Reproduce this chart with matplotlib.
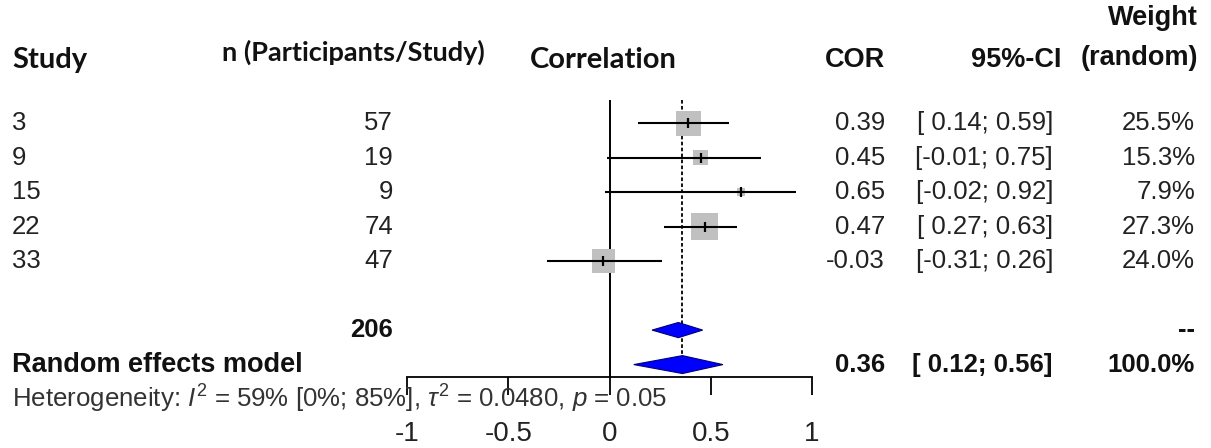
import matplotlib
matplotlib.use("Agg")
import matplotlib.pyplot as plt
import matplotlib.transforms as mtransforms
from matplotlib.patches import Polygon
import numpy as np

plt.rcParams['font.family'] = ['Liberation Sans', 'DejaVu Sans']
plt.rcParams['mathtext.fontset'] = 'custom'
plt.rcParams['mathtext.rm'] = 'Liberation Sans'
plt.rcParams['mathtext.it'] = 'Liberation Sans:italic'

# data
studies = ["3", "9", "15", "22", "33"]
n_part = [57, 19, 9, 74, 47]
cor = [0.39, 0.45, 0.65, 0.47, -0.03]
ci_lo = [0.14, -0.01, -0.02, 0.27, -0.31]
ci_hi = [0.59, 0.75, 0.92, 0.63, 0.26]
weight = [25.5, 15.3, 7.9, 27.3, 24.0]

n_total = 206
sub_lo, sub_est, sub_hi = 0.21, 0.34, 0.46
re_est, re_lo, re_hi = 0.36, 0.12, 0.56
re_label = "Random effects model"
het_text = r"Heterogeneity: $I^2$ = 59% [0%; 85%], $\tau^2$ = 0.0480, $p$ = 0.05"
xticks = [-1, -0.5, 0, 0.5, 1]
xtick_labels = ["-1", "-0.5", "0", "0.5", "1"]

W, H = 1211, 448
fig = plt.figure(figsize=(W/100, H/100), dpi=100)

# overlay in pixel units, used for text x positions
tx = fig.add_axes([0, 0, 1, 1])
tx.set_xlim(0, W)
tx.set_ylim(H, 0)
tx.axis('off')

# forest panel
fax = fig.add_axes([407/W, (H-377)/H, (812-407)/W, (377-100)/H])
fax.set_xlim(-1, 1)
fax.set_ylim(8.36, 0.33)
fax.patch.set_alpha(0)
for s in ['top', 'left', 'right']:
	fax.spines[s].set_visible(False)
fax.spines['bottom'].set_linewidth(1.3)
fax.set_yticks([])
fax.set_xticks(xticks)
fax.set_xticklabels(xtick_labels, fontsize=20, color='#222222')
fax.tick_params(axis='x', direction='out', length=13, width=1.3, pad=19)

rows = np.arange(1, len(studies)+1)
sub_row = 7
re_row = 8

fax.axvline(0, color='k', lw=1.4, zorder=1)
fax.vlines(re_est, fax.get_ylim()[1], re_row, colors='k', lw=1.3,
	linestyles=(0, (2, 1.3)), zorder=1)

side = 27*np.array(weight)/max(weight)
fax.scatter(cor, rows, s=(side*0.72)**2, marker='s', c='#c0c0c0',
	linewidths=0, zorder=2)
fax.hlines(rows, ci_lo, ci_hi, colors='k', lw=1.5, zorder=3)
fax.plot(cor, rows, ls='none', marker='|', ms=7, mew=1.6, color='k', zorder=4)

def diamond(lo, est, hi, row, h):
	p = Polygon([(lo, row), (est, row-h), (hi, row), (est, row+h)],
		closed=True, facecolor='#0000ff', edgecolor='#00007a', lw=0.8, zorder=5)
	fax.add_patch(p)

diamond(sub_lo, sub_est, sub_hi, sub_row, 0.22)
diamond(re_lo, re_est, re_hi, re_row, 0.26)

# text columns: x in pixels, y in forest rows
tr = mtransforms.blended_transform_factory(tx.transData, fax.transData)
fs = 18.5
col = '#222222'
hb = dict(fontweight='bold', color='#111111', va='center')
cal = ['Lato', 'DejaVu Sans']

fig.text(12, -0.83, "Study", transform=tr, fontsize=21, family=cal, ha='left', **hb)
fig.text(222, -1.06, "n (Participants/Study)", transform=tr, fontsize=19.5, family=cal, ha='left', **hb)
fig.text(530, -0.83, "Correlation", transform=tr, fontsize=21, family=cal, ha='left', **hb)
fig.text(885, -0.83, "COR", transform=tr, fontsize=19.5, ha='right', **hb)
fig.text(1062, -0.83, "95%-CI", transform=tr, fontsize=19.5, ha='right', **hb)
fig.text(1198, -0.88, "(random)", transform=tr, fontsize=19.5, ha='right', **hb)
fig.text(1198, -2.04, "Weight", transform=tr, fontsize=19.5, ha='right', **hb)

for i, r in enumerate(rows):
	fig.text(12, r, studies[i], transform=tr, fontsize=fs, color=col, ha='left', va='center')
	fig.text(393, r, str(n_part[i]), transform=tr, fontsize=fs, color=col, ha='right', va='center')
	fig.text(885, r, "{0:.2f}".format(cor[i]), transform=tr, fontsize=fs, color=col, ha='right', va='center')
	ci = "[{0};{1}]".format("%5.2f" % ci_lo[i], "%5.2f" % ci_hi[i])
	fig.text(1053, r, ci, transform=tr, fontsize=fs, color=col, ha='right', va='center')
	fig.text(1195, r, "{0:.1f}%".format(weight[i]), transform=tr, fontsize=fs, color=col, ha='right', va='center')

fig.text(393, sub_row, str(n_total), transform=tr, fontsize=fs, ha='right', **hb)
fig.text(1195, sub_row, "--", transform=tr, fontsize=fs, ha='right', **hb)

fig.text(12, re_row, re_label, transform=tr, fontsize=19.5, ha='left', **hb)
fig.text(885, re_row, "{0:.2f}".format(re_est), transform=tr, fontsize=fs, ha='right', **hb)
fig.text(1053, re_row, "[ {0:.2f}; {1:.2f}]".format(re_lo, re_hi), transform=tr, fontsize=fs, ha='right', **hb)
fig.text(1195, re_row, "100.0%", transform=tr, fontsize=fs, ha='right', **hb)

fig.text(12, 9.0, het_text, transform=tr, fontsize=18.6, color='#333333', ha='left', va='center')

fig.savefig("out.png", dpi=100)
